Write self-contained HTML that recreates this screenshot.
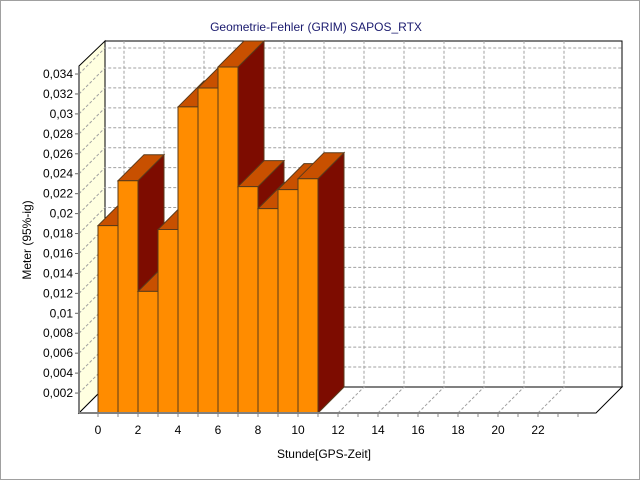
<!DOCTYPE html>
<html><head><meta charset="utf-8"><style>
body{margin:0;background:#fff}
svg{display:block}
text{font-family:"Liberation Sans","DejaVu Sans",sans-serif;font-size:12px}
</style></head><body>
<svg id="c" width="640" height="480" viewBox="0 0 640 480">
<rect x="0.5" y="0.5" width="639" height="479" fill="#fff" stroke="#a0a0a0"/>
<text x="316" y="31" text-anchor="middle" fill="#1a1a6e">Geometrie-Fehler (GRIM) SAPOS_RTX</text>
<text transform="translate(31,240) rotate(-90)" text-anchor="middle" fill="#000">Meter (95%-ig)</text>
<text x="324" y="458" text-anchor="middle" fill="#000">Stunde[GPS-Zeit]</text>
<g id="g"></g>
</svg>
<script>
const hours = [0,1,2,3,4,5,6,7,8,9,10];
const values = [0.0188,0.0233,0.0122,0.0184,0.0307,0.0326,0.0347,0.0227,0.0205,0.0224,0.0235];
const yTicks = [0.002,0.004,0.006,0.008,0.010,0.012,0.014,0.016,0.018,0.020,0.022,0.024,0.026,0.028,0.030,0.032,0.034];
const yTickLabels = ["0,002","0,004","0,006","0,008","0,01","0,012","0,014","0,016","0,018","0,02","0,022","0,024","0,026","0,028","0,03","0,032","0,034"];
const xTicks = [0,2,4,6,8,10,12,14,16,18,20,22];

const NS="http://www.w3.org/2000/svg", g=document.getElementById('g');
const X0=79,Y0=413,D=26,TOP=66,XR=596,HW=20,XS=98;
const y=v=>Y0-v*(19.94/0.002);
const x=h=>XS+h*HW;
function el(t,a){const e=document.createElementNS(NS,t);for(const k in a)e.setAttribute(k,a[k]);g.appendChild(e);return e;}
// walls
let w=el('polygon',{points:`${X0},${TOP} ${X0+D},${TOP-D+1} ${X0+D},${Y0-D} ${X0},${Y0}`,fill:'#ffffe0',stroke:'#000'});


w=el('rect',{x:X0+D,y:TOP-D+1,width:XR+D-(X0+D),height:Y0-D-(TOP-D+1),fill:'#fff',stroke:'#000'});


w=el('polygon',{points:`${X0},${Y0} ${X0+D},${Y0-D} ${XR+D},${Y0-D} ${XR},${Y0}`,fill:'#fff',stroke:'#000'});


// grid
yTicks.forEach((v,i)=>{
 const yy=y(v);
 let l=el('polyline',{points:`${X0},${yy} ${X0+D},${yy-D} ${XR+D},${yy-D}`,fill:'none',stroke:'#a0a0a0','stroke-dasharray':'3,2'});
 
 
 let tk=el('line',{x1:X0-4,y1:yy,x2:X0,y2:yy,stroke:'#666'});
 
 
 let t=el('text',{x:X0-6,y:yy+4,'text-anchor':'end',fill:'#000'});t.textContent=yTickLabels[i];
 
 
});
xTicks.forEach(h=>{
 const xx=x(h);
 let l=el('polyline',{points:`${xx},${Y0} ${xx+D},${Y0-D} ${xx+D},${TOP-D+1}`,fill:'none',stroke:'#a0a0a0','stroke-dasharray':'3,2'});
 
 
 let t=el('text',{x:xx,y:Y0+21,'text-anchor':'middle',fill:'#000'});t.textContent=h;
 
 
});
for(let h=0;h<=24;h++){let tk=el('line',{x1:x(h),y1:Y0,x2:x(h),y2:Y0+4,stroke:'#888'});
 
 }
// bars
hours.forEach((h,i)=>{
 const l=x(h),r=l+HW,t=y(values[i]);
 const bg=document.createElementNS(NS,'g');g.appendChild(bg);
 
 
 const mk=(pts,f)=>{const p=document.createElementNS(NS,'polygon');p.setAttribute('points',pts);p.setAttribute('fill',f);p.setAttribute('stroke','#5a3a1a');p.setAttribute('stroke-width','1');bg.appendChild(p);};
 mk(`${r},${t} ${r+D},${t-D} ${r+D},${Y0-D} ${r},${Y0}`,'#7d0c00');
 mk(`${l},${t} ${l+D},${t-D} ${r+D},${t-D} ${r},${t}`,'#c85000');
 mk(`${l},${t} ${r},${t} ${r},${Y0} ${l},${Y0}`,'#ff8c00');
});
let ax=el('line',{x1:X0,y1:Y0,x2:XR,y2:Y0,stroke:'#808080','stroke-width':2});


ax=el('line',{x1:X0,y1:TOP,x2:X0,y2:Y0,stroke:'#808080','stroke-width':2});


</script>
</body></html>
